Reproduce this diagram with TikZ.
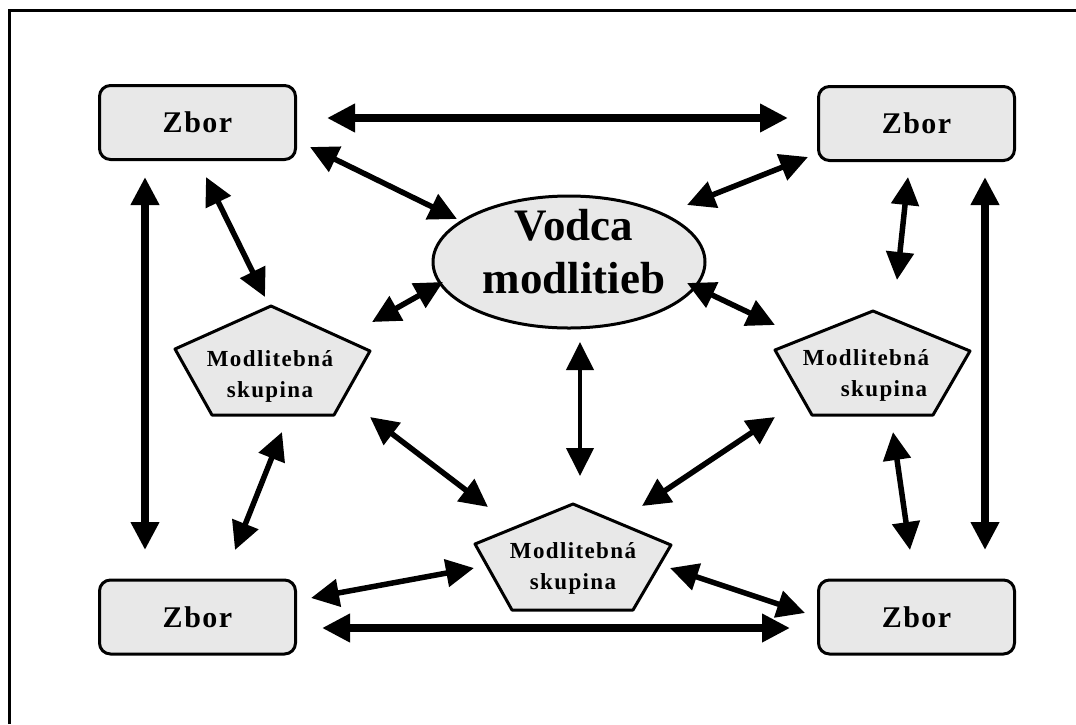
\documentclass[tikz,border=0pt]{standalone}
\usepackage{fontspec}
\setmainfont{Liberation Serif}
\usetikzlibrary{arrows.meta,shapes.geometric}
\definecolor{fillg}{HTML}{E8E8E8}
\begin{document}
\begin{tikzpicture}[x=1pt,y=-1pt,
  zbor/.style={draw,line width=3pt,fill=fillg,rounded corners=11pt,minimum width=196pt,minimum height=74pt,inner sep=0pt,
    font=\fontsize{30}{32}\selectfont\bfseries\addfontfeatures{LetterSpace=5}},
  pent/.style={draw,line width=3pt,fill=fillg,line join=round},
  ptext/.style={align=center,inner sep=0pt,font=\fontsize{23}{31}\selectfont\bfseries\addfontfeatures{LetterSpace=6}},
  vtext/.style={align=center,inner sep=0pt,font=\fontsize{45}{53}\selectfont\bfseries},
  tipshape/.style={},
  biarrow/.style={line width=5.5pt,{Triangle[length=28pt,width=27pt]}-{Triangle[length=28pt,width=27pt]}},
  bigarrow/.style={biarrow,line width=7.5pt},
  thinarrow/.style={biarrow,line width=4pt}
]
\useasboundingbox (0,0) rectangle (1076,724);
% frame
\draw[line width=3pt] (9.5,724) -- (9.5,10.5) -- (1076,10.5);

% Zbor boxes
\node[zbor] (ztl) at (197.5,122.5) {Zbor};
\node[zbor] (ztr) at (916.5,123.5) {Zbor};
\node[zbor] (zbl) at (197.5,617) {Zbor};
\node[zbor] (zbr) at (916.5,617) {Zbor};

% ellipse
\node[ellipse,draw,line width=3pt,fill=fillg,minimum width=272pt,minimum height=132pt,inner sep=0pt] (vod) at (569,262) {};
\node[vtext] (vodt) at (574,252) {Vodca\\modlitieb};

% pentagons
\draw[pent] (271,306) -- (370,351) -- (334,415) -- (212,415) -- (175,349) -- cycle;
\node[ptext] (lp) at (270,376) {Modlitebná\\skupina};
\draw[pent] (873,311) -- (970,351) -- (933,415) -- (812,415) -- (775,350) -- cycle;
\node[ptext] (rp) at (866,375) {Modlitebná\\\hspace*{36pt}skupina};
\draw[pent] (573,504) -- (671,545) -- (633,610) -- (512,610) -- (475,544) -- cycle;
\node[ptext] (bp) at (573,568) {Modlitebná\\skupina};

% arrow end points
\coordinate (a1s) at (327,118);  \coordinate (a1e) at (788,118);
\coordinate (a2s) at (322,628);  \coordinate (a2e) at (790,628);
\coordinate (a3s) at (145,177);  \coordinate (a3e) at (145,550);
\coordinate (a4s) at (985,177);  \coordinate (a4e) at (985,550);
\coordinate (a5s) at (310,147);  \coordinate (a5e) at (457,219);
\coordinate (a6s) at (808,157);  \coordinate (a6e) at (687,205);
\coordinate (a7s) at (206,177);  \coordinate (a7e) at (265,297);
\coordinate (a8s) at (372,322);  \coordinate (a8e) at (443,282);
\coordinate (a9s) at (687,283);  \coordinate (a9e) at (775,325);
\coordinate (a10s) at (908,177); \coordinate (a10e) at (897,280);
\coordinate (a11s) at (580,342); \coordinate (a11e) at (580,476);
\coordinate (a12s) at (370,417); \coordinate (a12e) at (488,507);
\coordinate (a13s) at (775,417); \coordinate (a13e) at (642,506);
\coordinate (a14s) at (282,432); \coordinate (a14e) at (235,550);
\coordinate (a15s) at (893,432); \coordinate (a15e) at (910,550);
\coordinate (a16s) at (311,598); \coordinate (a16e) at (474,568);
\coordinate (a17s) at (670,568); \coordinate (a17e) at (805,613);

\draw[bigarrow] (a1s) -- (a1e);
\draw[bigarrow] (a2s) -- (a2e);
\draw[bigarrow] (a3s) -- (a3e);
\draw[bigarrow] (a4s) -- (a4e);
\draw[biarrow] (a5s) -- (a5e);
\draw[biarrow] (a6s) -- (a6e);
\draw[biarrow] (a7s) -- (a7e);
\draw[biarrow] (a8s) -- (a8e);
\draw[biarrow] (a9s) -- (a9e);
\draw[biarrow] (a10s) -- (a10e);
\draw[thinarrow] (a11s) -- (a11e);
\draw[biarrow] (a12s) -- (a12e);
\draw[biarrow] (a13s) -- (a13e);
\draw[biarrow] (a14s) -- (a14e);
\draw[biarrow] (a15s) -- (a15e);
\draw[biarrow] (a16s) -- (a16e);
\draw[biarrow] (a17s) -- (a17e);
\end{tikzpicture}
\end{document}
